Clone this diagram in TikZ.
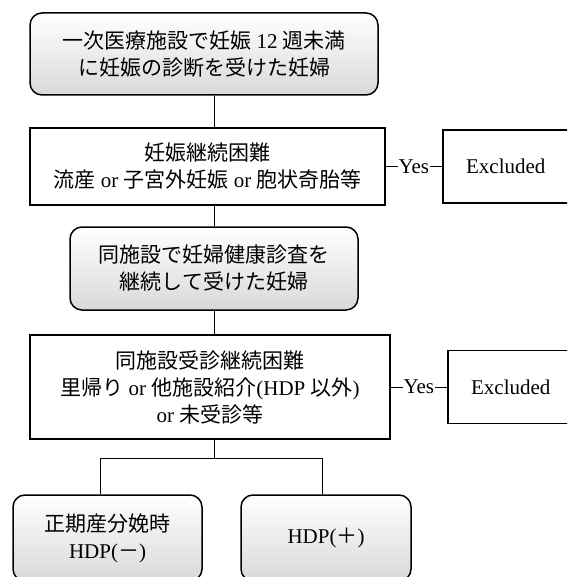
\documentclass[tikz,border=0pt]{standalone}
\usepackage{fontspec}
\setmainfont{Liberation Serif}
\newfontfamily\jp{Noto Sans CJK JP}
\usetikzlibrary{calc}

\tikzset{
  roundbox/.style={draw, line width=1.5pt, rounded corners=12pt, top color=white, bottom color=gray!30, align=center, inner sep=0pt},
  squarebox/.style={draw, line width=1.5pt, fill=white, align=center, inner sep=0pt},
  exbox/.style={squarebox, anchor=west, minimum width=150pt, minimum height=73pt},
  link/.style={line width=0.8pt},
}

\begin{document}
\begin{tikzpicture}[x=1pt, y=-1pt, font=\fontsize{21}{27}\selectfont]
  \clip (0,0) rectangle (567,577);
  \fill[white] (0,0) rectangle (567,577);
  % spine of the flow
  \coordinate (spine) at (214,0);
  \coordinate (fork) at (214,458);

  % main steps
  \node[roundbox, minimum width=348pt, minimum height=82pt] (start) at (204,54)
    {{\jp 一次医療施設で妊娠} 12 {\jp 週未満}\\{\jp に妊娠の診断を受けた妊婦}};
  \node[squarebox, minimum width=355pt, minimum height=77pt] (early) at (207.5,166.5)
    {{\jp 妊娠継続困難}\\{\jp 流産} or {\jp 子宮外妊娠} or {\jp 胞状奇胎等}};
  \node[roundbox, minimum width=288pt, minimum height=83pt] (checkup) at (214,268.5)
    {{\jp 同施設で妊婦健康診査を}\\{\jp 継続して受けた妊婦}};
  \node[squarebox, minimum width=360pt, minimum height=104pt] (late) at (210,387)
    {{\jp 同施設受診継続困難}\\{\jp 里帰り} or {\jp 他施設紹介}(HDP {\jp 以外})\\or {\jp 未受診等}};

  % excluded cases (right side runs off the page)
  \node[exbox] (exearly) at (442,166.5) {Excluded\hspace*{24pt}};
  \node[exbox] (exlate) at (447,387) {Excluded\hspace*{24pt}};

  % outcomes
  \node[roundbox, minimum width=189pt, minimum height=86pt] (neg) at (107.5,538)
    {{\jp 正期産分娩時}\\HDP({\jp －})};
  \node[roundbox, minimum width=170pt, minimum height=86pt] (pos) at (326,538)
    {HDP({\jp ＋})};

  % connectors
  \draw[link] (start.south -| spine) -- (early.north -| spine);
  \draw[link] (early.south -| spine) -- (checkup.north);
  \draw[link] (checkup.south) -- (late.north -| spine);
  \draw[link] (early.east) -- node[fill=white, inner sep=1pt] {Yes} (exearly.west);
  \draw[link] (late.east) -- node[fill=white, inner sep=1pt] {Yes} (exlate.west);
  \draw[link] (late.south -| spine) -- (fork);
  \draw[link] (fork) -| ([xshift=-7.5pt]neg.north);
  \draw[link] (fork) -| ([xshift=-4pt]pos.north);
\end{tikzpicture}
\end{document}
